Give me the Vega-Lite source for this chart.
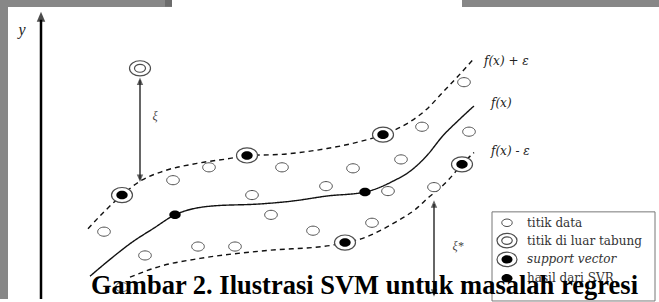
{
  "$schema": "https://vega.github.io/schema/vega-lite/v6.json",
  "width": 659,
  "height": 302,
  "autosize": {"type": "fit", "contains": "padding"},
  "padding": 0,
  "background": "white",
  "config": {"view": {"stroke": null}},
  "datasets": {
    "bands": [
      {"x": 0, "x2": 8, "y": 0, "y2": 302, "k": "a"},
      {"x": 0, "x2": 165, "y": 0, "y2": 7, "k": "a"},
      {"x": 165, "x2": 172, "y": 0, "y2": 7, "k": "b"},
      {"x": 462, "x2": 659, "y": 0, "y2": 7, "k": "a"}
    ],
    "curves": [
      {"c": "upper", "x": 88, "y": 231}, {"c": "upper", "x": 105, "y": 213}, {"c": "upper", "x": 122, "y": 197},
      {"c": "upper", "x": 140, "y": 183}, {"c": "upper", "x": 163, "y": 173}, {"c": "upper", "x": 197, "y": 165},
      {"c": "upper", "x": 230, "y": 160}, {"c": "upper", "x": 247, "y": 157}, {"c": "upper", "x": 280, "y": 156},
      {"c": "upper", "x": 300, "y": 154}, {"c": "upper", "x": 327, "y": 150}, {"c": "upper", "x": 360, "y": 143},
      {"c": "upper", "x": 383, "y": 136}, {"c": "upper", "x": 410, "y": 123}, {"c": "upper", "x": 427, "y": 110},
      {"c": "upper", "x": 443, "y": 93}, {"c": "upper", "x": 458, "y": 77}, {"c": "upper", "x": 474, "y": 59},
      {"c": "mid", "x": 90, "y": 279}, {"c": "mid", "x": 110, "y": 262}, {"c": "mid", "x": 133, "y": 244},
      {"c": "mid", "x": 153, "y": 231}, {"c": "mid", "x": 175, "y": 217}, {"c": "mid", "x": 213, "y": 208},
      {"c": "mid", "x": 260, "y": 206}, {"c": "mid", "x": 293, "y": 203}, {"c": "mid", "x": 327, "y": 198},
      {"c": "mid", "x": 365, "y": 194}, {"c": "mid", "x": 393, "y": 183}, {"c": "mid", "x": 410, "y": 173},
      {"c": "mid", "x": 427, "y": 157}, {"c": "mid", "x": 443, "y": 137}, {"c": "mid", "x": 458, "y": 122},
      {"c": "mid", "x": 474, "y": 107},
      {"c": "lower", "x": 130, "y": 280}, {"c": "lower", "x": 160, "y": 269}, {"c": "lower", "x": 200, "y": 261},
      {"c": "lower", "x": 267, "y": 253}, {"c": "lower", "x": 330, "y": 248}, {"c": "lower", "x": 345, "y": 245},
      {"c": "lower", "x": 362, "y": 241}, {"c": "lower", "x": 380, "y": 233}, {"c": "lower", "x": 396, "y": 224},
      {"c": "lower", "x": 416, "y": 211}, {"c": "lower", "x": 429, "y": 199}, {"c": "lower", "x": 440, "y": 190},
      {"c": "lower", "x": 449, "y": 181}, {"c": "lower", "x": 462, "y": 166}, {"c": "lower", "x": 474, "y": 154}
    ],
    "rules": [
      {"x": 41, "y": 20, "y2": 302, "k": "axis"},
      {"x": 140, "y": 81, "y2": 181, "k": "xi"},
      {"x": 434, "y": 206, "y2": 298, "k": "xi"}
    ],
    "heads": [
      {"x": 41, "y": 17, "dir": "up", "k": "axis"},
      {"x": 140, "y": 82, "dir": "up", "k": "xi"},
      {"x": 140, "y": 180, "dir": "down", "k": "xi"},
      {"x": 434, "y": 206, "dir": "up", "k": "xi"},
      {"x": 434, "y": 296, "dir": "down", "k": "xi"}
    ],
    "pts": [
      {"x": 104, "y": 234, "kind": "data"}, {"x": 173, "y": 182, "kind": "data"}, {"x": 209, "y": 169, "kind": "data"},
      {"x": 252, "y": 197, "kind": "data"}, {"x": 271, "y": 217, "kind": "data"}, {"x": 282, "y": 169, "kind": "data"},
      {"x": 145, "y": 258, "kind": "data"}, {"x": 198, "y": 249, "kind": "data"}, {"x": 235, "y": 249, "kind": "data"},
      {"x": 122, "y": 290, "kind": "data"}, {"x": 313, "y": 233, "kind": "data"}, {"x": 326, "y": 188, "kind": "data"},
      {"x": 353, "y": 170, "kind": "data"}, {"x": 401, "y": 161, "kind": "data"}, {"x": 422, "y": 128, "kind": "data"},
      {"x": 464, "y": 83, "kind": "data"}, {"x": 469, "y": 133, "kind": "data"}, {"x": 388, "y": 193, "kind": "data"},
      {"x": 434, "y": 189, "kind": "data"}, {"x": 372, "y": 225, "kind": "data"},
      {"x": 122, "y": 197, "kind": "sv"}, {"x": 247, "y": 157, "kind": "sv"}, {"x": 383, "y": 136, "kind": "sv"},
      {"x": 345, "y": 245, "kind": "sv"}, {"x": 462, "y": 166, "kind": "sv"},
      {"x": 175, "y": 217, "kind": "fx"}, {"x": 365, "y": 194, "kind": "fx"},
      {"x": 140, "y": 69, "kind": "out"},
      {"x": 507, "y": 225, "kind": "ldata"}, {"x": 507, "y": 243, "kind": "out"},
      {"x": 507, "y": 262, "kind": "sv"}, {"x": 507, "y": 281, "kind": "fx"}
    ],
    "box": [{"x": 492, "x2": 655, "y": 214, "y2": 304}],
    "texts": [
      {"x": 484, "y": 62, "label": "f(x) + ε", "k": "flab"},
      {"x": 491, "y": 104, "label": "f(x)", "k": "flab"},
      {"x": 491, "y": 153, "label": "f(x) - ε", "k": "flab"},
      {"x": 527, "y": 225, "label": "titik data", "k": "leg"},
      {"x": 527, "y": 243, "label": "titik di luar tabung", "k": "leg"},
      {"x": 527, "y": 262, "label": "support vector", "k": "flab2"},
      {"x": 527, "y": 281, "label": "hasil dari SVR", "k": "leg"},
      {"x": 22, "y": 30, "label": "y", "k": "ylab"},
      {"x": 155, "y": 117, "label": "ξ", "k": "xi"},
      {"x": 458, "y": 248, "label": "ξ*", "k": "xi"}
    ],
    "title": [{"x": 91, "y": 297, "label": "Gambar 2. Ilustrasi SVM untuk masalah regresi"}]
  },
  "encoding": {
    "x": {"field": "x", "type": "quantitative", "scale": {"domain": [0, 659], "nice": false, "zero": false}, "axis": null},
    "y": {"field": "y", "type": "quantitative", "scale": {"domain": [0, 302], "nice": false, "zero": false, "reverse": true}, "axis": null}
  },
  "layer": [
    {
      "data": {"name": "bands"},
      "mark": {"type": "rect"},
      "encoding": {
        "x2": {"field": "x2"},
        "y2": {"field": "y2"},
        "color": {"field": "k", "type": "nominal", "scale": {"domain": ["a", "b"], "range": ["#878787", "#6c6c6c"]}, "legend": null}
      }
    },
    {
      "data": {"name": "curves"},
      "mark": {"type": "line", "interpolate": "monotone", "color": "#111111", "strokeWidth": 1.4},
      "encoding": {
        "detail": {"field": "c", "type": "nominal"},
        "strokeDash": {"field": "c", "type": "nominal", "scale": {"domain": ["upper", "mid", "lower"], "range": [[5, 4], [1, 0], [5, 4]]}, "legend": null}
      }
    },
    {
      "data": {"name": "rules"},
      "transform": [{"filter": "datum.k === 'axis'"}],
      "mark": {"type": "rule", "color": "#000000", "strokeWidth": 2.5},
      "encoding": {"y2": {"field": "y2"}}
    },
    {
      "data": {"name": "rules"},
      "transform": [{"filter": "datum.k === 'xi'"}],
      "mark": {"type": "rule", "color": "#333333", "strokeWidth": 1.5},
      "encoding": {"y2": {"field": "y2"}}
    },
    {
      "data": {"name": "heads"},
      "transform": [{"filter": "datum.k === 'axis'"}],
      "mark": {"type": "point", "filled": true, "color": "#000000", "size": 100, "shape": "M0,-1L-0.85,1L0.85,1Z", "strokeWidth": 0}
    },
    {
      "data": {"name": "heads"},
      "transform": [{"filter": "datum.k === 'xi'"}],
      "mark": {"type": "point", "filled": true, "color": "#222222", "size": 56, "strokeWidth": 0},
      "encoding": {
        "shape": {"field": "dir", "type": "nominal", "scale": {"domain": ["up", "down"], "range": ["M0,-1L-0.85,1L0.85,1Z", "M0,1L-0.85,-1L0.85,-1Z"]}, "legend": null}
      }
    },
    {
      "data": {"name": "pts"},
      "transform": [{"filter": "datum.kind === 'data'"}],
      "mark": {"type": "point", "filled": true, "fill": "white", "stroke": "#4d4d4d", "strokeWidth": 1, "size": 160, "shape": "M-1,0A1,0.72 0 1,1 1,0A1,0.72 0 1,1 -1,0Z", "opacity": 1}
    },
    {
      "data": {"name": "pts"},
      "transform": [{"filter": "datum.kind === 'sv' || datum.kind === 'out'"}],
      "mark": {"type": "point", "filled": true, "fill": "white", "stroke": "#4d4d4d", "strokeWidth": 1.2, "size": 441, "shape": "M-1,0A1,0.72 0 1,1 1,0A1,0.72 0 1,1 -1,0Z", "opacity": 1}
    },
    {
      "data": {"name": "pts"},
      "transform": [{"filter": "datum.kind === 'out'"}],
      "mark": {"type": "point", "filled": true, "fill": "white", "stroke": "#4d4d4d", "strokeWidth": 1.2, "size": 121, "shape": "M-1,0A1,0.72 0 1,1 1,0A1,0.72 0 1,1 -1,0Z", "opacity": 1}
    },
    {
      "data": {"name": "pts"},
      "transform": [{"filter": "datum.kind === 'sv' || datum.kind === 'fx'"}],
      "mark": {"type": "point", "filled": true, "fill": "#000000", "strokeWidth": 0, "size": 130, "shape": "M-1,0A1,0.75 0 1,1 1,0A1,0.75 0 1,1 -1,0Z", "opacity": 1}
    },
    {
      "data": {"name": "box"},
      "mark": {"type": "rect", "fill": "white", "stroke": "#777777", "strokeWidth": 1},
      "encoding": {"x2": {"field": "x2"}, "y2": {"field": "y2"}}
    },
    {
      "data": {"name": "pts"},
      "transform": [{"filter": "datum.kind === 'ldata'"}],
      "mark": {"type": "point", "filled": true, "fill": "white", "stroke": "#4d4d4d", "strokeWidth": 1, "size": 110, "shape": "M-1,0A1,0.72 0 1,1 1,0A1,0.72 0 1,1 -1,0Z", "opacity": 1}
    },
    {
      "data": {"name": "pts"},
      "transform": [{"filter": "datum.x > 490 && (datum.kind === 'sv' || datum.kind === 'out')"}],
      "mark": {"type": "point", "filled": true, "fill": "white", "stroke": "#4d4d4d", "strokeWidth": 1.2, "size": 400, "shape": "M-1,0A1,0.72 0 1,1 1,0A1,0.72 0 1,1 -1,0Z", "opacity": 1}
    },
    {
      "data": {"name": "pts"},
      "transform": [{"filter": "datum.x > 490 && datum.kind === 'out'"}],
      "mark": {"type": "point", "filled": true, "fill": "white", "stroke": "#4d4d4d", "strokeWidth": 1.2, "size": 110, "shape": "M-1,0A1,0.72 0 1,1 1,0A1,0.72 0 1,1 -1,0Z", "opacity": 1}
    },
    {
      "data": {"name": "pts"},
      "transform": [{"filter": "datum.x > 490 && (datum.kind === 'sv' || datum.kind === 'fx')"}],
      "mark": {"type": "point", "filled": true, "fill": "#000000", "strokeWidth": 0, "size": 121, "shape": "M-1,0A1,0.75 0 1,1 1,0A1,0.75 0 1,1 -1,0Z", "opacity": 1}
    },
    {
      "data": {"name": "texts"},
      "transform": [{"filter": "datum.k === 'flab'"}],
      "mark": {"type": "text", "align": "left", "baseline": "middle", "font": "DejaVu Serif", "fontStyle": "italic", "fontSize": 12, "color": "#222222"},
      "encoding": {"text": {"field": "label"}}
    },
    {
      "data": {"name": "texts"},
      "transform": [{"filter": "datum.k === 'flab2'"}],
      "mark": {"type": "text", "align": "left", "baseline": "middle", "font": "DejaVu Serif", "fontStyle": "italic", "fontSize": 12, "color": "#333333"},
      "encoding": {"text": {"field": "label"}}
    },
    {
      "data": {"name": "texts"},
      "transform": [{"filter": "datum.k === 'leg'"}],
      "mark": {"type": "text", "align": "left", "baseline": "middle", "font": "DejaVu Serif", "fontSize": 12, "color": "#333333"},
      "encoding": {"text": {"field": "label"}}
    },
    {
      "data": {"name": "texts"},
      "transform": [{"filter": "datum.k === 'ylab'"}],
      "mark": {"type": "text", "align": "center", "baseline": "middle", "font": "Liberation Serif", "fontStyle": "italic", "fontSize": 16, "color": "#222222"},
      "encoding": {"text": {"field": "label"}}
    },
    {
      "data": {"name": "texts"},
      "transform": [{"filter": "datum.k === 'xi'"}],
      "mark": {"type": "text", "align": "center", "baseline": "middle", "font": "Liberation Serif", "fontStyle": "italic", "fontSize": 12, "color": "#444444"},
      "encoding": {"text": {"field": "label"}}
    },
    {
      "data": {"name": "title"},
      "mark": {"type": "text", "align": "left", "baseline": "alphabetic", "font": "Liberation Serif", "fontWeight": "bold", "fontSize": 26.5, "color": "#000000"},
      "encoding": {"text": {"field": "label"}}
    }
  ]
}
